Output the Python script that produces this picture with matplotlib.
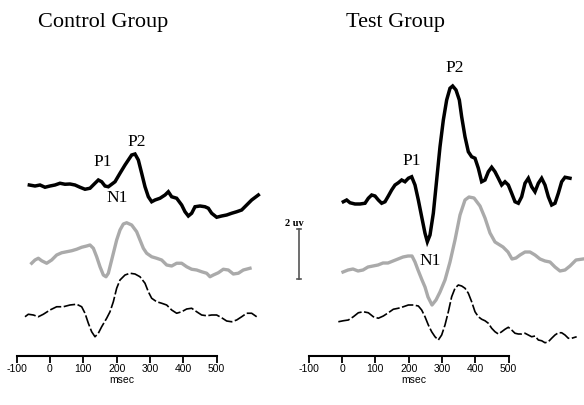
import matplotlib.pyplot as plt

# --- Control group traces (time in msec, amplitude in uV relative to each trace baseline) ---
ctrl_top_t = [-62, -45, -30, -15, 0, 15, 30, 45, 60, 75, 90, 105, 120, 135, 145, 155, 165, 175, 185, 195,
              210, 225, 235, 245, 255, 265, 275, 285, 295, 305, 315, 330, 345, 355, 365, 380, 395, 405, 415,
              425, 435, 450, 465, 475, 485, 500, 515, 530, 545, 560, 575, 590, 605, 625]
ctrl_top_v = [0, -0.04, 0, -0.09, -0.04, 0, 0.07, 0.03, 0.04, 0, -0.09, -0.17, -0.13, 0.07, 0.2, 0.13, -0.04,
              -0.07, 0.03, 0.13, 0.47, 0.8, 1.0, 1.2, 1.24, 1.0, 0.47, -0.07, -0.47, -0.67, -0.6, -0.53, -0.4,
              -0.27, -0.47, -0.53, -0.8, -1.07, -1.24, -1.13, -0.87, -0.84, -0.87, -0.93, -1.13, -1.29, -1.24,
              -1.2, -1.13, -1.07, -1.0, -0.8, -0.6, -0.4]

ctrl_gray_t = [-55, -45, -35, -25, -10, 5, 20, 35, 50, 65, 80, 95, 110, 120, 130, 140, 150, 160, 168, 175,
               185, 200, 210, 220, 230, 245, 260, 270, 280, 290, 305, 320, 335, 350, 365, 380, 395, 410, 425,
               440, 455, 470, 480, 490, 505, 520, 535, 550, 565, 580, 600]
ctrl_gray_v = [-0.33, -0.2, -0.13, -0.23, -0.33, -0.2, 0, 0.09, 0.13, 0.17, 0.23, 0.31, 0.36, 0.4, 0.27, -0.07,
               -0.47, -0.8, -0.87, -0.73, -0.2, 0.6, 1.0, 1.24, 1.29, 1.2, 0.93, 0.6, 0.27, 0.07, -0.07, -0.13,
               -0.2, -0.4, -0.44, -0.33, -0.33, -0.47, -0.57, -0.6, -0.67, -0.73, -0.87, -0.8, -0.71, -0.57,
               -0.6, -0.76, -0.73, -0.6, -0.53]

ctrl_thin_t = [-75, -65, -50, -35, -20, 0, 20, 40, 60, 80, 95, 105, 115, 125, 135, 145, 155, 170, 180, 190,
               200, 210, 225, 240, 255, 270, 285, 295, 305, 320, 335, 350, 365, 380, 395, 410, 425, 440, 455,
               470, 485, 500, 515, 530, 545, 560, 575, 590, 605, 620]
ctrl_thin_v = [-0.07, 0.03, 0, -0.07, 0.03, 0.2, 0.33, 0.33, 0.4, 0.43, 0.33, 0.07, -0.33, -0.67, -0.87, -0.73,
               -0.47, -0.13, 0.13, 0.53, 1.07, 1.4, 1.6, 1.67, 1.64, 1.53, 1.27, 0.93, 0.67, 0.53, 0.47, 0.4,
               0.2, 0.07, 0.13, 0.24, 0.27, 0.13, 0, -0.03, 0, 0, -0.11, -0.24, -0.27, -0.2, -0.07, 0.07, 0.07,
               -0.07]

# --- Test group traces ---
test_top_t = [4, 14, 24, 39, 54, 69, 79, 89, 99, 109, 119, 129, 139, 149, 159, 169, 179, 189, 199, 209, 219,
              229, 239, 249, 256, 264, 274, 284, 294, 304, 314, 324, 332, 342, 352, 359, 369, 379, 389, 399,
              409, 419, 429, 439, 449, 459, 469, 479, 489, 499, 509, 519, 529, 539, 549, 559, 569, 579, 589,
              599, 609, 619, 629, 639, 649, 659, 669, 684]
test_top_v = [-0.07, 0, -0.11, -0.16, -0.16, -0.13, 0.07, 0.2, 0.16, 0, -0.13, -0.07, 0.16, 0.4, 0.6, 0.69,
              0.8, 0.73, 0.87, 0.93, 0.6, 0, -0.67, -1.33, -1.67, -1.4, -0.53, 0.8, 2.13, 3.2, 4.0, 4.47, 4.56,
              4.4, 4.0, 3.33, 2.53, 1.93, 1.73, 1.67, 1.27, 0.73, 0.8, 1.13, 1.31, 1.13, 0.87, 0.6, 0.73, 0.6,
              0.27, -0.07, -0.13, 0.13, 0.67, 0.87, 0.53, 0.33, 0.67, 0.87, 0.6, 0.13, -0.2, -0.13, 0.27, 0.73,
              0.91, 0.87]

test_gray_t = [3, 18, 33, 48, 63, 78, 93, 108, 123, 138, 153, 168, 183, 198, 210, 219, 228, 240, 249, 258,
               270, 282, 294, 309, 324, 339, 354, 369, 381, 396, 414, 429, 444, 459, 483, 498, 510, 522, 534,
               549, 564, 579, 594, 609, 624, 639, 654, 669, 684, 702, 723]
test_gray_v = [-0.28, -0.2, -0.16, -0.24, -0.2, -0.08, -0.04, 0, 0.08, 0.08, 0.16, 0.24, 0.32, 0.36, 0.36,
               0.12, -0.2, -0.6, -0.88, -1.28, -1.6, -1.4, -1.08, -0.6, 0.12, 1.0, 2.0, 2.6, 2.72, 2.68, 2.36,
               1.88, 1.28, 0.92, 0.72, 0.52, 0.24, 0.28, 0.4, 0.52, 0.52, 0.4, 0.24, 0.16, 0.12, -0.08, -0.24,
               -0.2, -0.04, 0.2, 0.24]

test_thin_t = [-11, 4, 19, 34, 49, 64, 79, 94, 109, 124, 139, 154, 169, 184, 199, 214, 229, 239, 249, 259,
               269, 279, 289, 299, 309, 319, 329, 339, 349, 359, 369, 379, 389, 399, 409, 419, 429, 439, 449,
               459, 469, 479, 489, 499, 509, 519, 529, 539, 549, 559, 569, 579, 589, 599, 609, 619, 629, 639,
               649, 659, 669, 679, 689, 704]
test_thin_v = [-0.27, -0.23, -0.2, -0.07, 0.09, 0.13, 0.09, -0.07, -0.13, -0.04, 0.09, 0.23, 0.27, 0.33, 0.4,
               0.4, 0.36, 0.2, -0.07, -0.4, -0.67, -0.87, -1.0, -0.8, -0.4, 0.13, 0.73, 1.07, 1.2, 1.16, 1.07,
               0.87, 0.53, 0.13, -0.07, -0.17, -0.23, -0.33, -0.53, -0.67, -0.76, -0.67, -0.57, -0.49, -0.6,
               -0.73, -0.76, -0.76, -0.73, -0.8, -0.87, -0.84, -1.0, -1.03, -1.11, -1.07, -0.93, -0.8, -0.71,
               -0.71, -0.8, -0.93, -0.93, -0.87]

ticks = [-100, 0, 100, 200, 300, 400, 500]
titles = ["Control Group", "Test Group"]
peak_names = ["P1", "P2", "N1"]
ctrl_peaks = [(159, 1.52), (261, 2.32), (201, 0.08)]
test_peaks = [(210, 1.56), (339, 5.28), (264, -2.44)]

# vertical offsets of the stacked traces (uV)
ctrl_offsets = [0.6, -2.2, -4.6]
test_offsets = [0.0, -2.6, -4.6]
axis_y = -6.24

serif = "Liberation Serif"
sans = "Liberation Sans"

fig = plt.figure(figsize=(5.84, 4.05), dpi=100)
ax1 = fig.add_axes([0, 0, 305 / 584, 1])
ax2 = fig.add_axes([305 / 584, 0, 279 / 584, 1])
ax1.set_xlim(-150, 765)
ax2.set_xlim(-111, 726)

panels = [
    (ax1, [(ctrl_top_t, ctrl_top_v), (ctrl_gray_t, ctrl_gray_v), (ctrl_thin_t, ctrl_thin_v)], ctrl_offsets, ctrl_peaks),
    (ax2, [(test_top_t, test_top_v), (test_gray_t, test_gray_v), (test_thin_t, test_thin_v)], test_offsets, test_peaks),
]

for i, (ax, traces, offs, peaks) in enumerate(panels):
    ax.set_ylim(-8.2, 8.0)
    ax.patch.set_alpha(0)
    (t1, v1), (t2, v2), (t3, v3) = traces
    ax.plot(t1, [v + offs[0] for v in v1], color="black", lw=2.5, solid_joinstyle="miter")
    ax.plot(t2, [v + offs[1] for v in v2], color="#aaaaaa", lw=2.4)
    ax.plot(t3, [v + offs[2] for v in v3], color="black", lw=1.2, linestyle=(0, (7, 1.5)))

    for name, (x, y) in zip(peak_names, peaks):
        ax.text(x, y, name, family=serif, fontsize=12.5, ha="center", va="center")

    ax.text(160, 7.08, titles[i], family=serif, fontsize=16, ha="center", va="center")

    for s in ["top", "right", "left"]:
        ax.spines[s].set_visible(False)
    ax.spines["bottom"].set_position(("data", axis_y))
    ax.spines["bottom"].set_bounds(-100, 500)
    ax.spines["bottom"].set_linewidth(1.5)
    ax.set_yticks([])
    ax.set_xticks(ticks)
    ax.set_xticklabels([str(t) for t in ticks], family=sans, fontsize=7.5)
    ax.tick_params(axis="x", direction="out", length=5, width=1.3, pad=1)
    ax.text(215, -7.2, "msec", family=sans, fontsize=7.5, ha="center", va="center")

# 2 uV scale bar
ax1.plot([747, 747], [-1.16, -3.16], color="#555555", lw=1.2, clip_on=False)
ax1.plot([740, 754], [-1.16, -1.16], color="#555555", lw=1.2, clip_on=False)
ax1.plot([740, 754], [-3.16, -3.16], color="#555555", lw=1.2, clip_on=False)
ax1.text(732, -0.92, "2 uv", family=serif, fontsize=7.5, fontweight="bold", ha="center", va="center")

fig.savefig("out.png", dpi=100)
